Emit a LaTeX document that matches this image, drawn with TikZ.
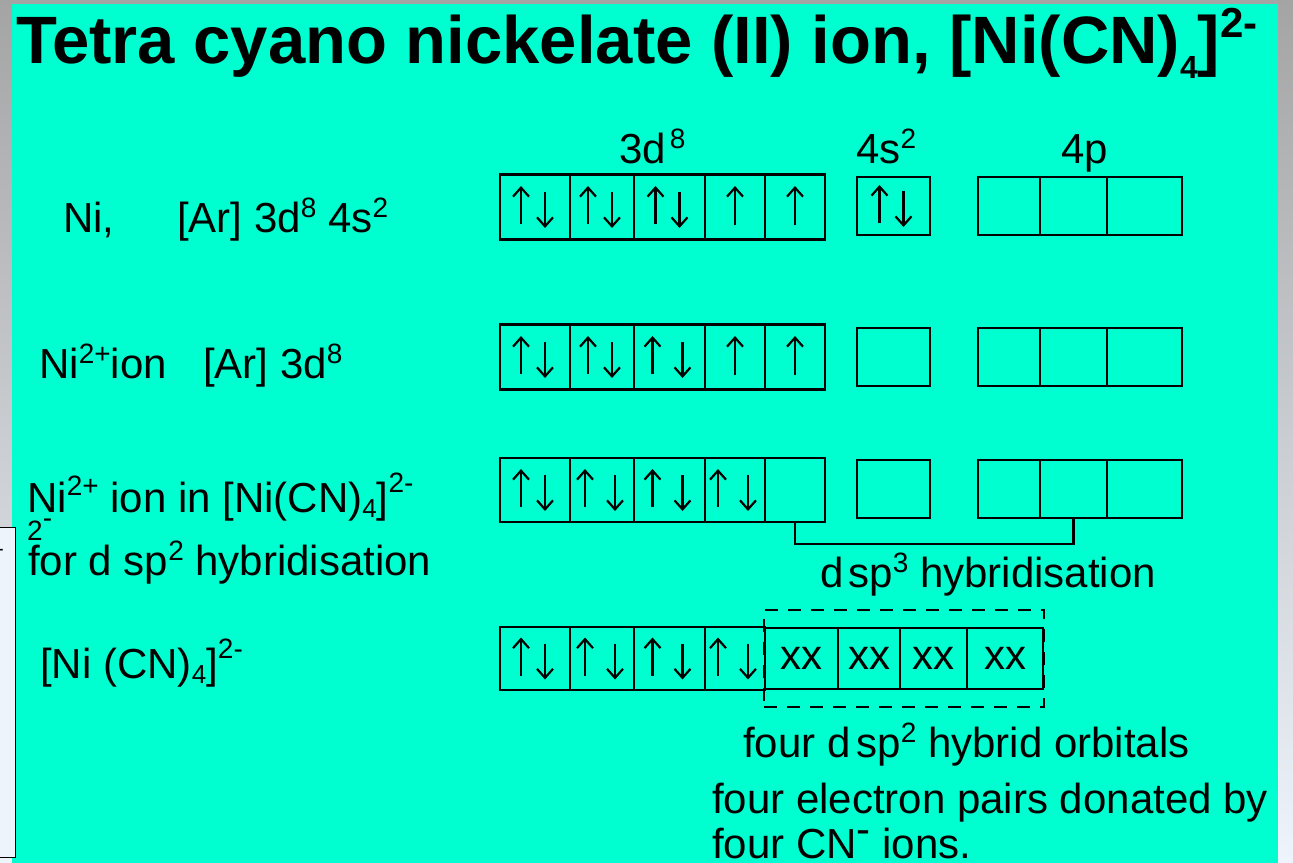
\documentclass[tikz,border=0pt]{standalone}
\usepackage{fontspec}
\setmainfont{Liberation Sans}
\usetikzlibrary{fit,arrows.meta}
\definecolor{panel}{RGB}{0,255,208}
\definecolor{frame}{RGB}{164,164,164}
\definecolor{paper}{RGB}{238,244,252}
\newcommand{\hi}[2][15pt]{\raisebox{#1}{\fontsize{28}{28}\selectfont #2}}
\newcommand{\lo}[1]{\raisebox{-5pt}{\fontsize{26}{26}\selectfont #1}}

\tikzset{
  txt/.style={anchor=base west,inner sep=0pt,font=\fontsize{42}{42}\selectfont},
  orb/.style={draw,line width=2.2pt,inner sep=0pt,minimum height=#1,font=\fontsize{42}{42}\selectfont},
  dashbox/.style={draw,line width=2.4pt,dash pattern=on 13pt off 10pt,inner xsep=0pt,inner ysep=17pt},
  spin/.style={line width=2.2pt,-{Straight Barb[length=9pt,width=16pt,line width=2.2pt]}},
  up/.pic={\draw[spin] (0,18) -- (0,-21);},
  pair/.pic={\draw[spin] (-14,17) -- (-14,-21); \draw[spin] (10,-15) -- (10,21);},
  wide/.pic={\draw[spin] (-17,17) -- (-17,-21); \draw[spin] (13,-15) -- (13,21);}
}

\begin{document}
\begin{tikzpicture}[x=1pt,y=-1pt]
\useasboundingbox (0,0) rectangle (1293,862);
\shade[top color=frame,bottom color=paper] (0,0) rectangle (1293,862);
\fill[panel] (12,4) rectangle (1278,870);
\filldraw[fill=paper,line width=1pt] (-5,527) rectangle (15.5,857);
\node[anchor=west,inner sep=0pt,font=\fontsize{20}{20}\selectfont] (dash) at (-3,552) {-};

\node[anchor=base west,inner sep=0pt,font=\bfseries\fontsize{67}{70}\selectfont] (title) at (16,63)
  {Tetra cyano nickelate (II) ion, [Ni(CN)\raisebox{-15pt}{\fontsize{32}{32}\selectfont 4}]\raisebox{26pt}{\fontsize{42}{42}\selectfont 2-}};

% shell headings
\node[txt] (h3d) at (619,163) {3d\kern4pt\hi{8}};
\node[txt] (h4s) at (856,163) {4s\hi{2}};
\node[txt] (h4p) at (1061,163) {4p};

% Ni atom
\node[txt] (ni) at (63,232) {Ni,};
\node[txt] (niconf) at (177,232) {[Ar] 3d\hi{8} 4s\hi{2}};
\foreach \c/\w [count=\i] in {535/70,602/64,669.5/71,735/60,795/60}
  \node[orb=65pt,minimum width=\w pt] (a\i) at (\c,207) {};
\node[orb=58pt,minimum width=73pt] (s1) at (893.5,206) {};
\foreach \c/\w [count=\i] in {1009/62,1073.5/67,1144.5/75}
  \node[orb=58pt,minimum width=\w pt] (p\i) at (\c,206) {};

% Ni2+ ion
\node[txt] (nion) at (39,378) {Ni\hi{2+}ion};
\node[txt] (nionconf) at (203,378) {[Ar] 3d\hi{8}};
\foreach \c/\w [count=\i] in {535/70,602/64,669.5/71,735/60,795/60}
  \node[orb=65pt,minimum width=\w pt] (b\i) at (\c,357) {};
\node[orb=58pt,minimum width=73pt] (t1) at (893.5,357) {};
\foreach \c/\w [count=\i] in {1009/62,1073.5/67,1144.5/75}
  \node[orb=58pt,minimum width=\w pt] (q\i) at (\c,357) {};

% paired up for hybridisation
\node[txt] (ninc) at (27,512) {Ni\hi[17pt]{2+} ion in [Ni(CN)\lo{4}]\hi[20pt]{2-}};
\node[txt,font=\fontsize{28}{28}\selectfont] (stray) at (27,540) {2\raisebox{13pt}{-}};
\node[txt] (forhyb) at (28,575) {for d sp\hi{2} hybridisation};
\foreach \c/\w [count=\i] in {535/70,602/64,669.5/71,735/60,795/60}
  \node[orb=64pt,minimum width=\w pt] (c\i) at (\c,490) {};
\node[orb=58pt,minimum width=73pt] (u1) at (893.5,489) {};
\foreach \c/\w [count=\i] in {1009/62,1073.5/67,1144.5/75}
  \node[orb=58pt,minimum width=\w pt] (r\i) at (\c,489) {};
\draw[line width=2.2pt] (c5.south) -- ++(0,21) -| (r2.south);
\node[txt] (dsp3) at (820,587) {d\kern5pt sp\hi{3} hybridisation};

% complex
\node[txt] (cplx) at (40,678) {[Ni (CN)\lo{4}]\hi[20pt]{2-}};
\foreach \c/\w [count=\i] in {535/70,602/64,669.5/71,735/60}
  \node[orb=63pt,minimum width=\w pt] (d\i) at (\c,658.5) {};
\foreach \c/\w [count=\i] in {801.5/73,869/62,933.5/67,1005/76}
  \node[orb=61pt,minimum width=\w pt] (x\i) at (\c,658.5) {xx};
\node[dashbox,fit=(x1)(x4)] (hyb) {};
\node[txt] (four) at (743,757) {four d\kern6pt sp\hi{2} hybrid orbitals};
\node[txt] (pairs) at (712,813) {four electron pairs donated by};
\node[txt] (cn) at (712,858) {four CN\raisebox{15pt}{-} ions.};

% electron spins
\foreach \b in {a1,a2,a3,s1,b1,b2,c1,d1} \pic at (\b) {pair};
\foreach \b in {b3,c2,c3,c4,d2,d3,d4} \pic at (\b) {wide};
\foreach \b in {a4,a5,b4,b5} \pic at (\b) {up};
\end{tikzpicture}
\end{document}
